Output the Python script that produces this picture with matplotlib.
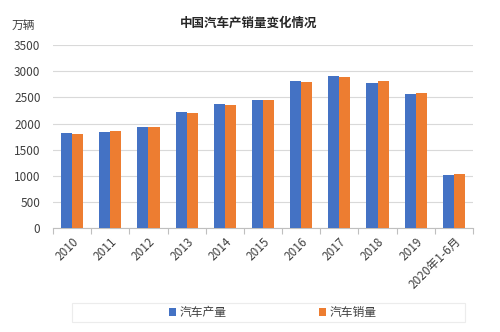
import matplotlib
matplotlib.use("Agg")
import matplotlib.pyplot as plt
from matplotlib.patches import Rectangle
import numpy as np

plt.rcParams['font.family'] = ['Noto Sans CJK SC', 'DejaVu Sans']

categories = ['2010', '2011', '2012', '2013', '2014', '2015', '2016', '2017', '2018', '2019', '2020年1-6月']
production = [1826, 1842, 1927, 2212, 2372, 2450, 2812, 2902, 2781, 2572, 1011]
sales = [1806, 1851, 1931, 2198, 2349, 2460, 2803, 2888, 2808, 2577, 1026]
yticks = [0, 500, 1000, 1500, 2000, 2500, 3000, 3500]

fig = plt.figure(figsize=(5.0, 3.32), dpi=100)
ax = fig.add_axes([0.106, 0.313, 0.84, 0.551])

x = np.arange(len(categories))
w = 0.29
ax.bar(x - w/2, production, w, color='#4472C4', label='汽车产量', zorder=3)
ax.bar(x + w/2, sales, w, color='#ED7D31', label='汽车销量', zorder=3)

ax.set_xlim(-0.5, len(categories) - 0.5)
ax.set_ylim(0, 3500)
ax.set_yticks(yticks)
ax.set_yticklabels([str(v) for v in yticks], fontsize=8.5, color='#404040')
ax.yaxis.grid(True, color='#d9d9d9', linewidth=0.8, zorder=0)
ax.tick_params(axis='y', length=0, pad=9)

ax.set_xticks(x)
ax.set_xticklabels(categories, rotation=45, ha='right', rotation_mode='anchor', fontsize=8.5, color='#404040')
ax.tick_params(axis='x', length=0, pad=5)
ax.set_xticks(np.arange(len(categories) + 1) - 0.5, minor=True)
ax.tick_params(axis='x', which='minor', length=4, color='#bfbfbf', width=0.8)

for s in ['top', 'right', 'left']:
    ax.spines[s].set_visible(False)
ax.spines['bottom'].set_color('#bfbfbf')
ax.spines['bottom'].set_linewidth(0.8)

fig.text(0.497, 0.93, '中国汽车产销量变化情况', ha='center', va='center', fontsize=9, fontweight='bold', color='#262626')
fig.text(0.024, 0.925, '万辆', ha='left', va='center', fontsize=8.5, color='#404040')

fig.patches.append(Rectangle((0.144, 0.030), 0.786, 0.057, transform=fig.transFigure,
                             facecolor='white', edgecolor='#ececec', linewidth=0.8, zorder=0))

leg = fig.legend(loc='center', bbox_to_anchor=(0.546, 0.058), ncol=2, fontsize=8.5,
                 frameon=False, handlelength=0.6, handleheight=0.6, handletextpad=0.3,
                 columnspacing=7.8, borderpad=0.3)
for t in leg.get_texts():
    t.set_color('#404040')

fig.savefig('out.png', dpi=100)
